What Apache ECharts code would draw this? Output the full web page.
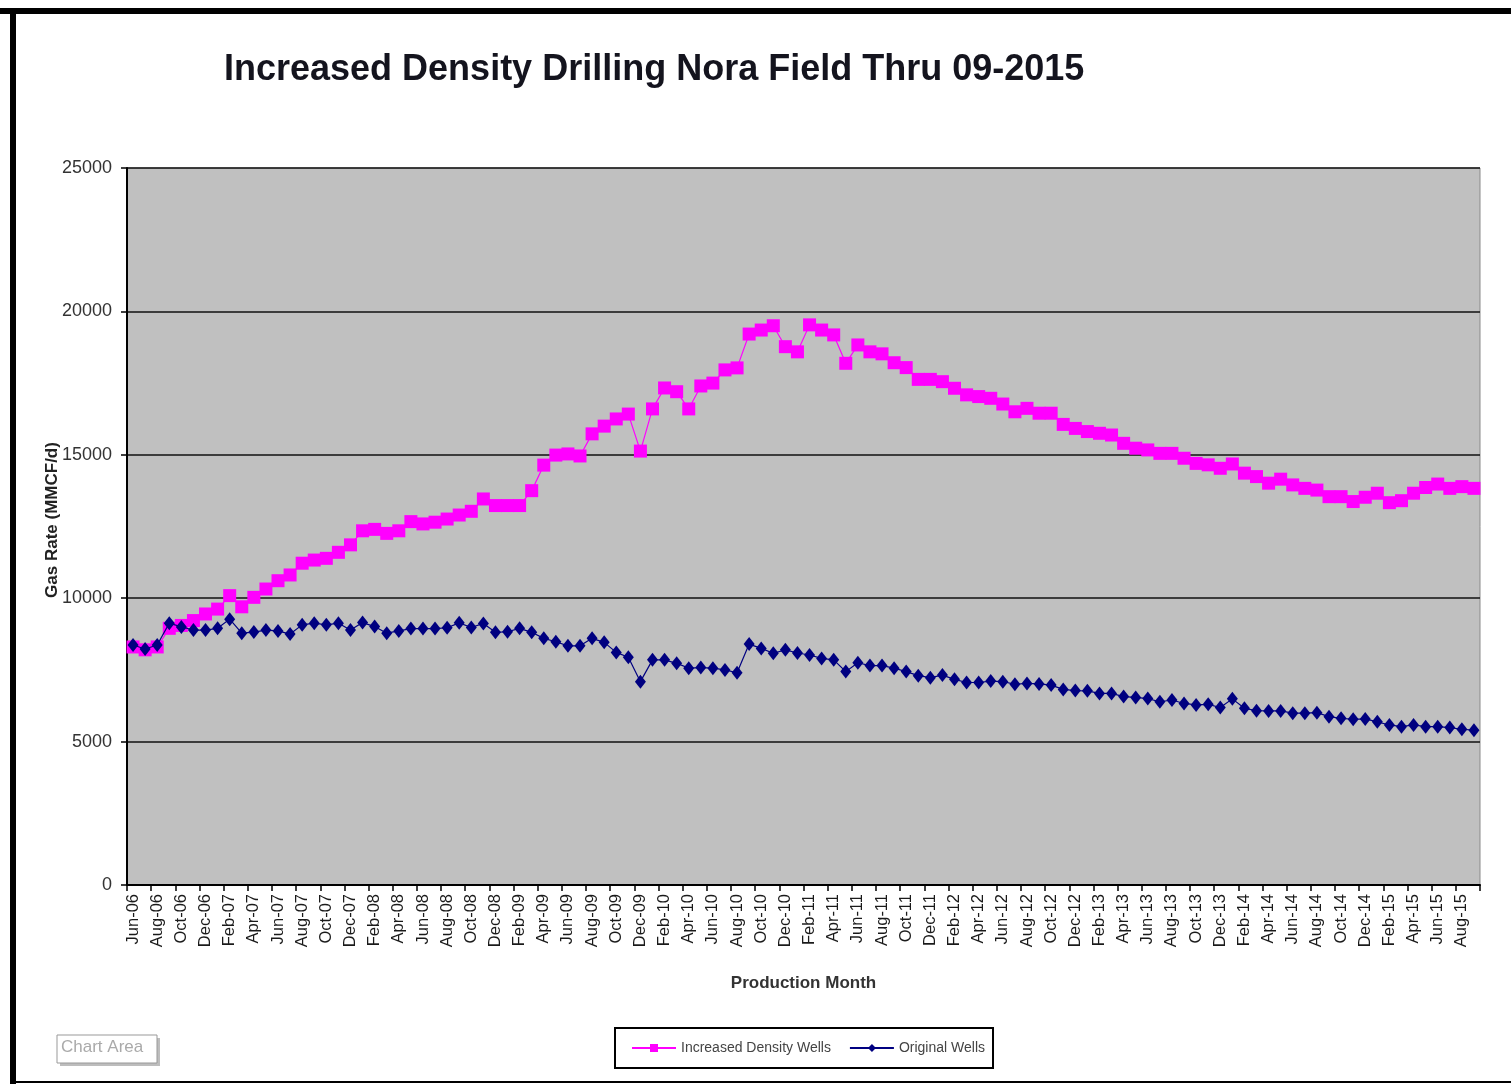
<!DOCTYPE html>
<html>
<head>
<meta charset="utf-8">
<script src="https://cdn.jsdelivr.net/npm/echarts@6/dist/echarts.min.js"></script>
<style>
html,body{margin:0;padding:0;background:#fff;}
#chart{width:1511px;height:1084px;}
</style>
</head>
<body>
<div id="chart"></div>
<script>
// Monthly categories Jun-06 .. Sep-15
const months = ['Jan','Feb','Mar','Apr','May','Jun','Jul','Aug','Sep','Oct','Nov','Dec'];
const categories = [];
for (let y = 2006; y <= 2015; y++) {
  for (let m = 0; m < 12; m++) {
    if (y === 2006 && m < 5) continue;
    if (y === 2015 && m > 8) continue;
    categories.push(months[m] + '-' + String(y % 100).padStart(2, '0'));
  }
}

const increasedDensityWells = [
  8300, 8200, 8300, 8950, 9050, 9220, 9450, 9620, 10090, 9700,
  10030, 10320, 10610, 10810, 11220, 11330, 11390, 11600, 11860, 12350,
  12400, 12260, 12350, 12670, 12590, 12650, 12760, 12900, 13030, 13460,
  13230, 13230, 13230, 13750, 14640, 14990, 15030, 14960, 15730, 16000,
  16250, 16420, 15130, 16600, 17330, 17200, 16600, 17400, 17500, 17960,
  18030, 19210, 19350, 19500, 18770, 18590, 19530, 19350, 19180, 18190,
  18830, 18590, 18520, 18210, 18040, 17630, 17630, 17550, 17320, 17090,
  17030, 16970, 16770, 16500, 16620, 16450, 16450, 16060, 15920, 15810,
  15750, 15690, 15400, 15230, 15170, 15050, 15050, 14880, 14700, 14650,
  14530, 14680, 14360, 14240, 14010, 14150, 13950, 13830, 13770, 13540,
  13540, 13370, 13520, 13660, 13330, 13400, 13660, 13860, 13980, 13830,
  13890, 13830
];

const originalWells = [
  8370, 8230, 8370, 9130, 9000, 8890, 8890, 8950, 9270, 8780,
  8820, 8890, 8860, 8750, 9070, 9130, 9070, 9130, 8890, 9150,
  9010, 8780, 8860, 8940, 8940, 8940, 8970, 9140, 8980, 9120,
  8810, 8830, 8950, 8810, 8600, 8480, 8340, 8340, 8600, 8460,
  8110, 7940, 7090, 7850, 7850, 7730, 7560, 7580, 7560, 7500,
  7400, 8400, 8250, 8080, 8200, 8090, 8020, 7900, 7850, 7440,
  7750, 7650, 7650, 7560, 7440, 7300, 7230, 7320, 7170, 7060,
  7060, 7110, 7090, 7000, 7030, 7010, 6970, 6820, 6780, 6770,
  6680, 6680, 6570, 6540, 6500, 6390, 6450, 6330, 6280, 6300,
  6190, 6490, 6160, 6080, 6070, 6070, 5990, 5990, 6010, 5870,
  5810, 5780, 5790, 5690, 5580, 5520, 5580, 5520, 5520, 5490,
  5430, 5400
];

const yTicks = [0, 5000, 10000, 15000, 20000, 25000];

const chart = echarts.init(document.getElementById('chart'), null, {renderer: 'canvas'});
const FONT = '"Liberation Sans", Arial, sans-serif';

chart.setOption({
  backgroundColor: '#ffffff',
  animation: false,
  title: {
    text: 'Increased Density Drilling Nora Field Thru 09-2015',
    left: 219, top: 47,
    textStyle: {fontFamily: FONT, fontSize: 36, fontWeight: 'bold', color: '#14141e'}
  },
  grid: {
    left: 127, right: 31, top: 168, bottom: 199,
    show: true, backgroundColor: '#c0c0c0', borderColor: '#8a8a8a', borderWidth: 1
  },
  legend: {
    left: 615, top: 1028,
    orient: 'horizontal',
    backgroundColor: '#ffffff',
    borderColor: '#000000', borderWidth: 2,
    padding: [13, 8, 13, 16],
    itemWidth: 44, itemHeight: 10, itemGap: 18,
    textStyle: {fontFamily: FONT, fontSize: 14, color: '#444'},
    data: ['Increased Density Wells', 'Original Wells']
  },
  xAxis: {
    type: 'category',
    data: categories,
    boundaryGap: true,
    name: 'Production Month',
    nameLocation: 'middle',
    nameGap: 90,
    nameTextStyle: {fontFamily: FONT, fontSize: 17, fontWeight: 'bold', color: '#333'},
    axisLine: {lineStyle: {color: '#000', width: 2}},
    axisTick: {show: true, interval: 1, length: 6, lineStyle: {color: '#000', width: 1.5}},
    axisLabel: {
      interval: 1, rotate: 90, margin: 9,
      fontFamily: FONT, fontSize: 16.5, color: '#1a1a1a'
    },
    splitLine: {show: false}
  },
  yAxis: {
    type: 'value',
    min: yTicks[0], max: yTicks[yTicks.length - 1], interval: 5000,
    axisLine: {show: true, lineStyle: {color: '#000', width: 2}},
    axisTick: {show: true, length: 6, lineStyle: {color: '#000', width: 1.5}},
    axisLabel: {fontFamily: FONT, fontSize: 18, color: '#333', margin: 15,
      formatter: function (v) { return String(v); }},
    splitLine: {show: true, lineStyle: {color: '#111', width: 1.5}}
  },
  series: [
    {
      name: 'Increased Density Wells',
      type: 'line',
      data: increasedDensityWells,
      showAllSymbol: true,
      symbol: 'rect', symbolSize: 13,
      itemStyle: {color: '#ff00ff'},
      lineStyle: {color: '#ff00ff', width: 1.2},
      z: 3
    },
    {
      name: 'Original Wells',
      type: 'line',
      data: originalWells,
      showAllSymbol: true,
      symbol: 'diamond', symbolSize: [11, 14],
      itemStyle: {color: '#000080'},
      lineStyle: {color: '#000080', width: 1.2},
      z: 4
    }
  ],
  graphic: [
    {type: 'line', shape: {x1: 0, y1: 11, x2: 1511, y2: 11}, style: {stroke: '#000', lineWidth: 6}},
    {type: 'line', shape: {x1: 13, y1: 8, x2: 13, y2: 1084}, style: {stroke: '#000', lineWidth: 6}},
    {type: 'line', shape: {x1: 10, y1: 1082, x2: 1511, y2: 1082}, style: {stroke: '#000', lineWidth: 2}},
    {type: 'text', x: 52, y: 520, rotation: Math.PI / 2,
     style: {text: 'Gas Rate (MMCF/d)', font: 'bold 17px ' + FONT, fill: '#222',
             align: 'center', verticalAlign: 'middle'}},
    {type: 'rect', shape: {x: 60, y: 1038, width: 100, height: 28},
     style: {fill: '#bdbdbd', stroke: null}},
    {type: 'rect', shape: {x: 57, y: 1035, width: 100, height: 28},
     style: {fill: '#ffffff', stroke: '#999', lineWidth: 1}},
    {type: 'text', left: 61, top: 1039,
     style: {text: 'Chart Area', font: '17px ' + FONT, fill: '#aaaaaa'}}
  ]
});
</script>
</body>
</html>
